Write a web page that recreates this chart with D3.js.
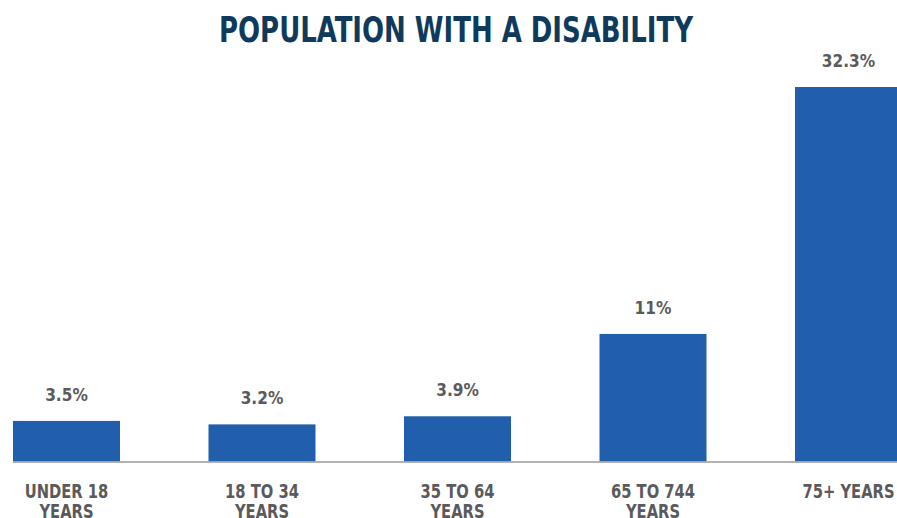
<!DOCTYPE html>
<html>
<head>
<meta charset="utf-8">
<script src="https://cdn.jsdelivr.net/npm/d3@7"></script>
<style>
  body { margin: 0; background: #fff; }
  svg { display: block; }
</style>
</head>
<body>
<div id="chart"></div>
<script>
// data
const categories = ["UNDER 18|YEARS", "18 TO 34|YEARS", "35 TO 64|YEARS", "65 TO 744|YEARS", "75+ YEARS"];
const values = [3.5, 3.2, 3.9, 11, 32.3];
const valueLabels = ["3.5%", "3.2%", "3.9%", "11%", "32.3%"];

const width = 897, height = 518;
const baseY = 461.5;
const font = "'DejaVu Sans Condensed', 'Liberation Sans', sans-serif";
const squish = 0.84; // narrow the glyphs a bit, the original uses a condensed face

const svg = d3.select("#chart")
    .append("svg")
    .attr("width", width)
    .attr("height", height);

// scales
const x = d3.scaleBand()
    .domain(categories)
    .range([-31.25, 946.25])
    .paddingInner(0.4527)
    .paddingOuter(0.2263);

const y = d3.scaleLinear()
    .domain([0, 32.3])
    .range([baseY, 87]);

// title
svg.append("text")
    .attr("x", 456)
    .attr("y", 42)
    .attr("text-anchor", "middle")
    .attr("font-family", font)
    .attr("font-weight", "bold")
    .attr("font-size", 35)
    .attr("fill", "#0f3a5c")
    .attr("textLength", 474)
    .attr("lengthAdjust", "spacingAndGlyphs")
    .text("POPULATION WITH A DISABILITY");

// bars
svg.selectAll("rect.bar")
    .data(values)
    .enter()
    .append("rect")
    .attr("class", "bar")
    .attr("x", (d, i) => x(categories[i]))
    .attr("y", d => y(d))
    .attr("width", x.bandwidth())
    .attr("height", d => baseY - y(d))
    .attr("fill", "#215eab");

// baseline
svg.append("line")
    .attr("x1", x(categories[0]))
    .attr("x2", width)
    .attr("y1", baseY + 0.5)
    .attr("y2", baseY + 0.5)
    .attr("stroke", "#9a9a9a")
    .attr("stroke-width", 1.5);

// value labels
svg.selectAll("text.val")
    .data(values)
    .enter()
    .append("text")
    .attr("class", "val")
    .attr("transform", (d, i) =>
        `translate(${x(categories[i]) + x.bandwidth() / 2}, ${y(d) - 20}) scale(0.95, 1)`)
    .attr("text-anchor", "middle")
    .attr("font-family", font)
    .attr("font-weight", "bold")
    .attr("font-size", 18)
    .attr("fill", "#5a5a5c")
    .text((d, i) => valueLabels[i]);

// category labels (two lines)
const cats = svg.selectAll("text.cat")
    .data(categories)
    .enter()
    .append("text")
    .attr("class", "cat")
    .attr("transform", d => `translate(${x(d) + x.bandwidth() / 2}, 498) scale(${squish}, 1)`)
    .attr("text-anchor", "middle")
    .attr("font-family", font)
    .attr("font-weight", "bold")
    .attr("font-size", 19.5)
    .attr("fill", "#5a5a5c");

cats.each(function(d) {
    d.split("|").forEach((line, j) => {
        d3.select(this).append("tspan")
            .attr("x", 0)
            .attr("y", j * 20)
            .text(line);
    });
});
</script>
</body>
</html>
